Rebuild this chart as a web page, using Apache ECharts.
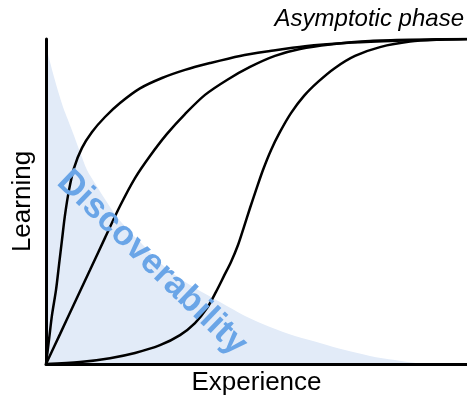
<!DOCTYPE html>
<html>
<head>
<meta charset="utf-8">
<script src="https://cdn.jsdelivr.net/npm/echarts@6/dist/echarts.min.js"></script>
<style>
  html, body { margin: 0; padding: 0; background: #fff; }
  #chart { width: 467px; height: 401px; }
</style>
</head>
<body>
<div id="chart"></div>
<script>
// Experience (x) vs learning (y), both on a 0–100 scale.
const fastLearner = [
  [0, 0], [0.71, 7.4], [1.43, 15.1], [2.38, 22.8], [3.09, 30.5], [3.80, 38.2],
  [4.51, 45.8], [5.46, 53.5], [6.65, 60.3], [8.55, 66.5], [10.93, 71.4],
  [14.01, 76.0], [17.58, 80.3], [22.33, 84.8], [27.55, 88.0], [33.02, 90.5],
  [38.95, 92.6], [46.08, 94.8], [53.21, 96.3], [61.52, 97.8], [71.02, 98.8],
  [81.71, 99.4], [91.21, 99.8], [100, 100]
];
const steadyLearner = [
  [0, 0], [3.33, 9.2], [6.89, 19.1], [10.45, 28.9], [14.01, 38.8], [17.58, 48.6],
  [21.14, 57.2], [24.70, 64.0], [28.74, 70.8], [33.02, 76.9], [37.77, 82.8],
  [42.99, 87.4], [48.46, 91.4], [54.39, 94.8], [60.33, 96.9], [67.46, 98.3],
  [76.96, 99.4], [88.84, 99.8], [100, 100]
];
const lateLearner = [
  [0, 0], [8.08, 0.6], [15.20, 1.8], [21.14, 3.4], [27.08, 5.8], [31.83, 8.9],
  [35.39, 12.6], [38.24, 17.2], [40.38, 22.2], [42.28, 27.1], [43.94, 31.4],
  [45.61, 36.6], [47.03, 42.2], [48.46, 48.0], [49.88, 53.5], [51.54, 59.7],
  [53.44, 65.8], [55.58, 71.4], [58.19, 77.2], [61.28, 82.5], [64.61, 86.8],
  [68.65, 91.1], [73.40, 94.8], [79.33, 97.5], [86.46, 99.2], [93.59, 99.8],
  [100, 100]
];
const discoverability = [
  [0.12, 97.2], [0.95, 92.9], [1.90, 88.3], [2.85, 84.0], [4.04, 79.1],
  [5.23, 75.1], [6.41, 71.1], [8.08, 65.2], [9.74, 59.7], [11.88, 55.1],
  [14.25, 50.2], [16.86, 45.2], [19.95, 40.6], [23.04, 36.6], [26.37, 32.0],
  [30.64, 27.4], [35.39, 23.4], [41.33, 19.1], [47.27, 14.8], [53.21, 11.4],
  [59.14, 8.6], [65.08, 6.5], [71.02, 4.3], [76.96, 2.5], [82.90, 1.2],
  [88.84, 0.15], [93.59, 0], [100, 0]
];

const xTitle = 'Experience';
const yTitle = 'Learning';
const phaseLabel = 'Asymptotic phase';
const areaLabel = 'Discoverability';

const chart = echarts.init(document.getElementById('chart'), null, { renderer: 'canvas' });

const curve = (data) => ({
  type: 'line',
  data: data,
  smooth: 0.3,
  showSymbol: false,
  symbol: 'none',
  z: 3,
  lineStyle: { color: '#000', width: 2.5 },
  silent: true
});

const axisBase = {
  type: 'value', min: 0, max: 100, z: 5,
  nameLocation: 'middle',
  nameTextStyle: { fontFamily: 'Liberation Sans', fontSize: 26, color: '#000' },
  axisLine: { show: true, lineStyle: { color: '#000', width: 3 } },
  axisTick: { show: false }, axisLabel: { show: false }, splitLine: { show: false }
};

chart.setOption({
  animation: false,
  backgroundColor: '#fff',
  grid: { left: 46, top: 39, right: 0, bottom: 37, containLabel: false },
  xAxis: Object.assign({}, axisBase, { name: xTitle, nameGap: 6 }),
  yAxis: Object.assign({}, axisBase, { name: yTitle, nameGap: 10, nameRotate: 90 }),
  series: [
    {
      type: 'line',
      data: discoverability,
      smooth: 0.3,
      symbol: 'none',
      z: 1,
      lineStyle: { width: 0, opacity: 0 },
      areaStyle: { color: '#e2ebf8', opacity: 1 },
      silent: true
    },
    curve(fastLearner),
    curve(steadyLearner),
    curve(lateLearner)
  ],
  graphic: [
    {
      type: 'text',
      right: 3, top: 7,
      style: {
        text: phaseLabel,
        font: 'italic 24px "Liberation Sans"',
        fill: '#000'
      }
    },
    {
      type: 'text',
      x: 152, y: 263,
      rotation: -44 * Math.PI / 180,
      z: 10,
      style: {
        text: areaLabel,
        font: 'bold 35px "Liberation Sans"',
        fill: '#6aa5e7',
        align: 'center',
        verticalAlign: 'middle'
      }
    }
  ]
});
</script>
</body>
</html>
